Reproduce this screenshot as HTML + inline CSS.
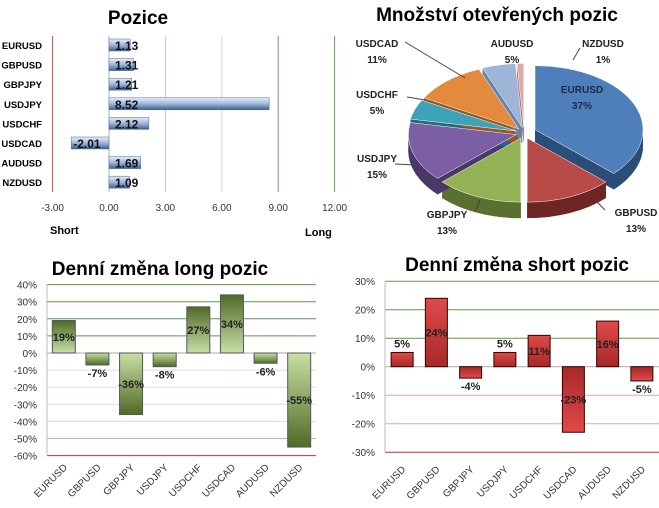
<!DOCTYPE html>
<html><head><meta charset="utf-8"><style>
body{margin:0;background:#fff;width:659px;height:508px;overflow:hidden;font-family:"Liberation Sans",Arial,sans-serif}
svg{display:block}
</style></head><body>
<svg id="s" width="659" height="508" xmlns="http://www.w3.org/2000/svg">
<defs>
<linearGradient id="hb" x1="0" y1="0" x2="0" y2="1"><stop offset="0" stop-color="#e8eef8"/><stop offset="0.5" stop-color="#9fb6d8"/><stop offset="1" stop-color="#3d5f94"/></linearGradient>
<linearGradient id="gPos" x1="0" y1="0" x2="0" y2="1"><stop offset="0" stop-color="#4f6b27"/><stop offset="1" stop-color="#c9dfa5"/></linearGradient>
<linearGradient id="gNeg" x1="0" y1="0" x2="0" y2="1"><stop offset="0" stop-color="#c9dfa5"/><stop offset="1" stop-color="#4f6b27"/></linearGradient>
<linearGradient id="rPos" x1="0" y1="0" x2="0" y2="1"><stop offset="0" stop-color="#e04a4a"/><stop offset="1" stop-color="#a82828"/></linearGradient>
<linearGradient id="rNeg" x1="0" y1="0" x2="0" y2="1"><stop offset="0" stop-color="#a82828"/><stop offset="1" stop-color="#e04a4a"/></linearGradient>
</defs>
</svg>
<script>
const posCats=["EURUSD","GBPUSD","GBPJPY","USDJPY","USDCHF","USDCAD","AUDUSD","NZDUSD"];
const posVals=[1.13,1.31,1.21,8.52,2.12,-2.01,1.69,1.09];
const posTicks=[-3,0,3,6,9,12];
const pieCats=["EURUSD","GBPUSD","GBPJPY","USDJPY","USDCHF","USDCAD","AUDUSD","NZDUSD"];
const pieVals=[37,13,13,15,5,11,5,1];
const longCats=["EURUSD","GBPUSD","GBPJPY","USDJPY","USDCHF","USDCAD","AUDUSD","NZDUSD"];
const longVals=[19,-7,-36,-8,27,34,-6,-55];
const longTicks=[40,30,20,10,0,-10,-20,-30,-40,-50,-60];
const shortCats=["EURUSD","GBPUSD","GBPJPY","USDJPY","USDCHF","USDCAD","AUDUSD","NZDUSD"];
const shortVals=[5,24,-4,5,11,-23,16,-5];
const shortTicks=[30,20,10,0,-10,-20,-30];

const S=document.getElementById('s');const NS='http://www.w3.org/2000/svg';
function el(t,a,txt){const e=document.createElementNS(NS,t);for(const k in a)e.setAttribute(k,a[k]);if(txt!==undefined)e.textContent=txt;S.appendChild(e);return e;}

// ---- Chart 1: Pozice
const t1=el('text',{x:138,y:24,'text-anchor':'middle','font-size':19,'font-weight':'bold'},'Pozice');


const px=v=>109+(v)*18.8;
const gcol={"-3":"#c05050","0":"#b0b0b0","3":"#e0c0c8","6":"#d0dcd0","9":"#70a060","12":"#60a050"};
posTicks.forEach(v=>{
 const l=el('line',{x1:px(v),x2:px(v),y1:36,y2:192,stroke:gcol[v],'stroke-width':1});
 
 
 const t=el('text',{x:px(v),y:211,'text-anchor':'middle','font-size':10,fill:'#333'},v.toFixed(2));
 
 
});
posCats.forEach((c,i)=>{
 const cy=45+i*19.6,v=posVals[i];
 const t=el('text',{x:42,y:cy+4,'text-anchor':'end','font-size':9.5,'font-weight':'bold'},c);
 
 
 const x0=Math.min(px(0),px(v)),w=Math.abs(px(v)-px(0));
 const r=el('rect',{x:x0,y:cy-6,width:w,height:12,fill:'url(#hb)',stroke:'#4a6a9a','stroke-width':0.5});
 
 
 const lx=v>=0?px(0)+6:px(v)+2;
 const lt=el('text',{x:lx,y:cy+5,'font-size':12,'font-weight':'bold',fill:'#111'},v.toFixed(2));
 
 
});
let tt=el('text',{x:50,y:234,'font-size':11,'font-weight':'bold'},'Short');


tt=el('text',{x:305,y:236,'font-size':11,'font-weight':'bold'},'Long');



// ---- Chart 2: Pie
const pt=el('text',{x:497,y:21,'text-anchor':'middle','font-size':19,'font-weight':'bold'},'Množství otevřených pozic');


const pcol=["#4f7fba","#b84a48","#92b255","#7b5ea3","#3ea3b8","#e38a3e","#9db5d8","#e0a8a8"];
const pdark=["#2c4d78","#6e2625","#5a7030","#4a3866","#22697a","#9a5520","#6b82a6","#a07070"];
const cx=524,cy=133,rx=108,ry=64,dep=16;
const tot=pieVals.reduce((a,b)=>a+b,0);
let ang=-Math.PI/2;const slices=[];
pieVals.forEach((v,i)=>{const a0=ang,a1=ang+v/tot*2*Math.PI;ang=a1;const m=(a0+a1)/2;const ex=i==0?12:8;slices.push({a0,a1,m,ox:Math.cos(m)*ex,oy:Math.sin(m)*ex*0.7,i});});
function pt2(s,a,dy){return [cx+s.ox+rx*Math.cos(a),cy+s.oy+ry*Math.sin(a)+dy];}
function wedge(s,dy){const p0=pt2(s,s.a0,dy),p1=pt2(s,s.a1,dy);const lg=(s.a1-s.a0)>Math.PI?1:0;return `M${cx+s.ox},${cy+s.oy+dy} L${p0[0]},${p0[1]} A${rx},${ry} 0 ${lg} 1 ${p1[0]},${p1[1]} Z`;}
slices.forEach(s=>{
 const p=el('path',{d:wedge(s,dep),fill:pdark[s.i]});
 
 
 const a0=Math.max(s.a0,0),a1=Math.min(s.a1,Math.PI);
 if(a1>a0){const q0=pt2(s,a0,0),q1=pt2(s,a1,0),q2=pt2(s,a1,dep),q3=pt2(s,a0,dep);
  const w=el('path',{d:`M${q0[0]},${q0[1]} A${rx},${ry} 0 0 1 ${q1[0]},${q1[1]} L${q2[0]},${q2[1]} A${rx},${ry} 0 0 0 ${q3[0]},${q3[1]} Z`,fill:pdark[s.i]});
  
  }
 const e=pt2(s,s.a0,0);
 const f=el('path',{d:`M${cx+s.ox},${cy+s.oy} L${e[0]},${e[1]} L${e[0]},${e[1]+dep} L${cx+s.ox},${cy+s.oy+dep} Z`,fill:pdark[s.i]});
 
 
});
slices.forEach(s=>{
 const p=el('path',{d:wedge(s,0),fill:pcol[s.i],stroke:'#fff','stroke-width':0.5});
 
 
});
const plab=[[582,93],[636,216],[447,218],[377,162],[377,98],[377,47],[512,47],[603,47]];
pieCats.forEach((c,i)=>{
 const [x,y]=plab[i];
 const a=el('text',{x:x,y:y,'text-anchor':'middle','font-size':10,'font-weight':'bold',fill:i==0?'#1a2a50':'#222'},c);
 
 
 const b=el('text',{x:x,y:y+16,'text-anchor':'middle','font-size':10,'font-weight':'bold',fill:i==0?'#1a2a50':'#222'},pieVals[i]+'%');
 
 
});
[[405,42,465,78],[407,97,425,100],[395,164,415,165],[475,212,480,200],[605,210,595,200],[580,48,573,60]].forEach(l=>{
 const ln=el('line',{x1:l[0],y1:l[1],x2:l[2],y2:l[3],stroke:'#444','stroke-width':1});
 
 
});

// ---- Bar chart helper
function barChart(o){
 const tt=el('text',{x:o.tx,y:o.ty,'text-anchor':'middle','font-size':19,'font-weight':'bold'},o.title);
 
 
 const y=v=>o.y0-v*o.ppu;
 o.ticks.forEach(v=>{
  const c=v>0?'#5a9a4a':v==0?'#aaa':(v==o.ticks[o.ticks.length-1]?'#c03030':(v<=o.pinkFrom?'#e0a8a8':'#d8e0d0'));
  const g=el('line',{x1:o.x0,x2:o.x1,y1:y(v),y2:y(v),stroke:c,'stroke-width':1});
  
  
  const t=el('text',{x:o.x0-10,y:y(v)+4,'text-anchor':'end','font-size':10,fill:'#333'},v+'%');
  
  
 });
 const ax=el('line',{x1:o.x0,x2:o.x0,y1:y(o.ticks[0]),y2:y(o.ticks[o.ticks.length-1]),stroke:'#bbb'});
 
 
 const cw=(o.x1-o.x0)/o.cats.length;
 o.cats.forEach((c,i)=>{
  const v=o.vals[i],mx=o.x0+cw*(i+0.5);
  const r=el('rect',{x:mx-o.bw/2,y:Math.min(y(v),y(0)),width:o.bw,height:Math.abs(y(v)-y(0)),fill:v>=0?o.fp:o.fn,stroke:o.stroke,'stroke-width':1});
  
  
  let ly=(y(v)+y(0))/2+4;
  if(Math.abs(y(v)-y(0))<16) ly=v>=0?y(v)-5:y(v)+12;
  const lt=el('text',{x:mx,y:ly,'text-anchor':'middle','font-size':11,'font-weight':'bold',fill:'#222'},v+'%');
  
  
  const ct=el('text',{x:mx+4,y:o.ly,'text-anchor':'end','font-size':10,fill:'#333',transform:`rotate(-45 ${mx+4} ${o.ly})`},c);
  
  
 });
}
barChart({name:'long',title:'Denní změna long pozic',tx:160,ty:275,cats:longCats,vals:longVals,ticks:longTicks,x0:47,x1:316,y0:353,ppu:1.71,bw:23,fp:'url(#gPos)',fn:'url(#gNeg)',stroke:'#556',ly:468,pinkFrom:-50});
barChart({name:'short',title:'Denní změna short pozic',tx:517,ty:271,cats:shortCats,vals:shortVals,ticks:shortTicks,x0:385,x1:659,y0:366.7,ppu:2.85,bw:22,fp:'url(#rPos)',fn:'url(#rNeg)',stroke:'#300',ly:470,pinkFrom:-10});
</script>
</body></html>
